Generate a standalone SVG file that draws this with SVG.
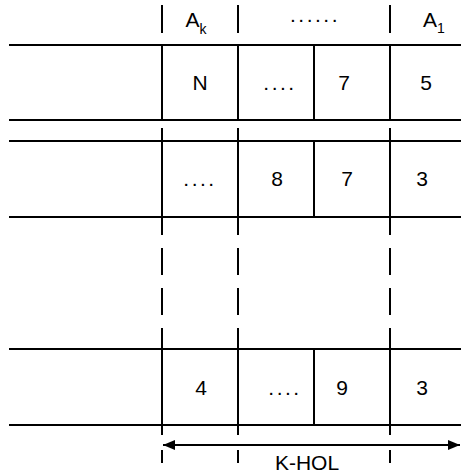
<svg xmlns="http://www.w3.org/2000/svg" width="461" height="474" viewBox="0 0 461 474">
<style>
.ln{stroke:#000;stroke-width:2;fill:none}
.t{font-family:"Liberation Sans",Arial,sans-serif;font-size:21px;fill:#000;text-anchor:middle}
.d{letter-spacing:2.5px}
.s{font-family:"Liberation Sans",Arial,sans-serif;font-size:14px;fill:#000}
</style>
<defs>
<marker id="ah" viewBox="0 0 12 10" refX="12" refY="5" markerWidth="12" markerHeight="10" markerUnits="userSpaceOnUse" orient="auto-start-reverse">
<path d="M0,0 L12,5 L0,10 z" fill="#000"/>
</marker>
</defs>
<g id="connectors">
<path class="ln" d="M9,45H461M9,120H461M9,141H461M9,217H461M9,349H461M9,425H461"/>
<path id="dash162" class="ln" d="M162,5V33M162,45V120M162,128V235M162,248V275M162,288V315M162,328V435M162,450V463"/>
<path id="dash238" class="ln" d="M238,5V33M238,45V120M238,128V235M238,248V275M238,288V315M238,328V435M238,450V463"/>
<path id="dash390" class="ln" d="M390,5V33M390,45V120M390,128V235M390,248V275M390,288V315M390,328V435M390,450V463"/>
<path class="ln" d="M314,45V120M314,141V217M314,349V425"/>
<path id="arrow" class="ln" d="M163,445H460" marker-start="url(#ah)" marker-end="url(#ah)"/>
</g>
<g id="header">
<text class="t" x="196" y="27">A<tspan class="s" font-size="14" dy="7">k</tspan></text>
<text class="t d" x="315" y="22">......</text>
<text class="t" x="434" y="27">A<tspan class="s" font-size="14" dy="6">1</tspan></text>
</g>
<g id="row1">
<text class="t" x="200" y="90">N</text>
<text class="t d" x="280" y="90">....</text>
<text class="t" x="344" y="90">7</text>
<text class="t" x="426" y="90">5</text>
</g>
<g id="row2">
<text class="t d" x="200" y="186">....</text>
<text class="t" x="277" y="186">8</text>
<text class="t" x="347" y="186">7</text>
<text class="t" x="422" y="186">3</text>
</g>
<g id="row3">
<text class="t" x="201" y="395">4</text>
<text class="t d" x="285" y="395">....</text>
<text class="t" x="342" y="395">9</text>
<text class="t" x="422" y="395">3</text>
</g>
<g id="label">
<text class="t" x="307" y="470">K-HOL</text>
</g>
</svg>
